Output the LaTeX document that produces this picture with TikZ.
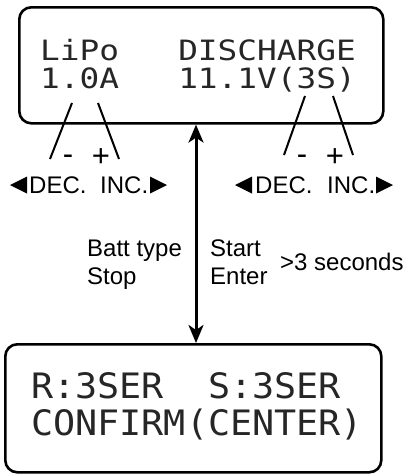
\documentclass[tikz,border=0pt]{standalone}
\usepackage{fontspec}
\setmainfont{Liberation Sans}
\newfontfamily\lcdtop[FakeStretch=1.17]{DejaVu Sans Mono}
\newfontfamily\lcdbot[FakeStretch=1.05]{DejaVu Sans Mono}
\usetikzlibrary{arrows.meta}
\begin{document}
\begin{tikzpicture}[x=1pt,y=1pt,
  lcdbox/.style={draw, line width=2.6pt, rounded corners=12pt, inner sep=0pt},
  lcdA/.style={font=\lcdtop\fontsize{28}{28}\selectfont, text=black!85, anchor=base west, inner sep=0pt},
  lcdB/.style={font=\lcdbot\fontsize{35}{35}\selectfont, text=black!85, anchor=base west, inner sep=0pt},
  lbl/.style={font=\fontsize{24}{24}\selectfont, anchor=base west, inner sep=0pt},
  sign/.style={font=\fontsize{31}{31}\selectfont, anchor=base, inner sep=0pt},
  lead/.style={line width=2pt},
  arr/.style={line width=3pt, {Stealth[length=18pt,width=15pt,inset=5pt]}-{Stealth[length=18pt,width=15pt,inset=5pt]}},
  tri/.style={fill=black}]
\useasboundingbox (0,0) rectangle (417,-474);

% boxes
\node[lcdbox, minimum width=364pt, minimum height=116pt, anchor=north west] (topbox) at (18,-6) {};
\node[lcdbox, minimum width=376pt, minimum height=128pt, anchor=north west] (botbox) at (4,-343) {};

% LCD texts
\node[lcdA] (t1) at (40,-60) {LiPo~~~DISCHARGE};
\node[lcdA] (t2) at (40,-88) {1.0A~~~11.1V(3S)};
\node[lcdB] (b1) at (31,-398) {R:3SER~~S:3SER};
\node[lcdB] (b2) at (31,-435) {CONFIRM(CENTER)};

% arrow between screens
\coordinate (ax) at (196,0);
\draw[arr] (ax |- topbox.south) -- (ax |- botbox.north);

% leader lines
\coordinate (l1a) at (72,-103);  \coordinate (l1b) at (50,-159);
\coordinate (l2a) at (98,-103);  \coordinate (l2b) at (119,-159);
\coordinate (r1a) at (305,-96);  \coordinate (r1b) at (284,-155);
\coordinate (r2a) at (333,-96);  \coordinate (r2b) at (353,-155);
\draw[lead] (l1a) -- (l1b);
\draw[lead] (l2a) -- (l2b);
\draw[lead] (r1a) -- (r1b);
\draw[lead] (r2a) -- (r2b);

% minus / plus
\node[sign] (lm) at (68,-164) {-};
\node[sign] (lp) at (101,-166) {+};
\node[sign] (rm) at (302,-164) {-};
\node[sign] (rp) at (335,-166) {+};

% DEC / INC labels
\node[lbl] (ldec) at (29,-193) {DEC.};
\node[lbl] (linc) at (100,-193) {INC.};
\node[lbl] (rdec) at (255,-193) {DEC.};
\node[lbl] (rinc) at (327,-193) {INC.};
\fill[tri] (27,-176.5) -- (27,-193.5) -- (10,-185) -- cycle;
\fill[tri] (150,-176.5) -- (150,-193.5) -- (167,-185) -- cycle;
\fill[tri] (252,-176.5) -- (252,-193.5) -- (235,-185) -- cycle;
\fill[tri] (376,-176.5) -- (376,-193.5) -- (393,-185) -- cycle;

% side labels
\node[lbl] (batt) at (87,-256) {Batt type};
\node[lbl] (stop) at (87,-284) {Stop};
\node[lbl] (start) at (210,-256) {Start};
\node[lbl] (enter) at (210,-284) {Enter};
\node[lbl] (secs) at (280,-270) {>3 seconds};
\end{tikzpicture}
\end{document}
